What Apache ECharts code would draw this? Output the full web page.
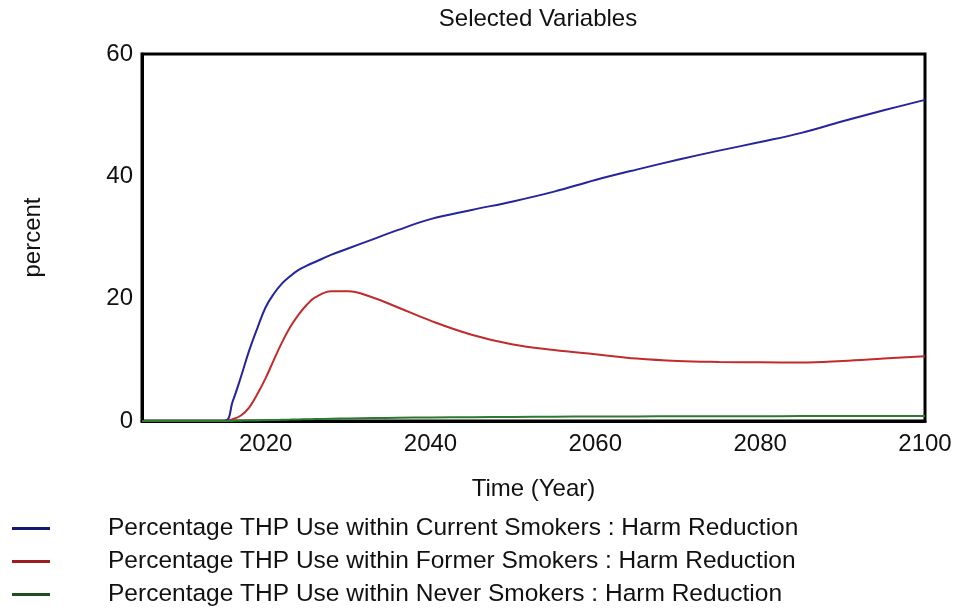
<!DOCTYPE html>
<html>
<head>
<meta charset="utf-8">
<script src="https://cdn.jsdelivr.net/npm/echarts@6/dist/echarts.min.js"></script>
<style>
html,body{margin:0;padding:0;background:#fff;}
#chart{width:963px;height:612px;}
</style>
</head>
<body>
<div id="chart"></div>
<script>
var titleText = 'Selected Variables';
var xAxisName = 'Time (Year)';
var yAxisName = 'percent';
var seriesNames = [
  'Percentage THP Use within Current Smokers : Harm Reduction',
  'Percentage THP Use within Former Smokers : Harm Reduction',
  'Percentage THP Use within Never Smokers : Harm Reduction'
];
var years = [2005, 2010, 2015, 2016, 2017, 2018, 2019, 2020, 2021, 2022, 2023, 2024, 2025, 2026, 2028, 2030, 2033, 2036, 2040, 2045, 2050, 2055, 2060, 2065, 2070, 2075, 2080, 2085, 2090, 2095, 2100];
var currentSmokers = [0, 0, 0, 3.2, 7.2, 11.5, 15.2, 18.6, 20.8, 22.5, 23.7, 24.7, 25.4, 26.0, 27.2, 28.2, 29.7, 31.2, 33.0, 34.5, 35.9, 37.5, 39.4, 41.1, 42.7, 44.2, 45.6, 47.1, 49.0, 50.8, 52.5];
var formerSmokers = [0, 0, 0, 0.3, 0.9, 2.2, 4.4, 7.0, 10.0, 12.9, 15.4, 17.4, 19.0, 20.2, 21.2, 21.2, 20.2, 18.6, 16.4, 14.1, 12.5, 11.6, 10.9, 10.2, 9.8, 9.65, 9.6, 9.55, 9.8, 10.2, 10.6];
var neverSmokers = [0, 0, 0, 0.02, 0.05, 0.08, 0.1, 0.13, 0.16, 0.2, 0.23, 0.26, 0.29, 0.32, 0.37, 0.42, 0.48, 0.53, 0.58, 0.63, 0.67, 0.7, 0.73, 0.75, 0.77, 0.78, 0.79, 0.8, 0.81, 0.82, 0.83];

var lineColors = ['#24249c', '#c02c2c', '#2e7a30'];
var legendColors = ['#14196e', '#9c1c20', '#1f4f20'];

function pairs(vals) {
  return years.map(function (y, i) { return [y, vals[i]]; });
}

var FONT = 'Liberation Sans, Arial, sans-serif';
var chart = echarts.init(document.getElementById('chart'), null, {renderer: 'canvas'});
var allVals = [currentSmokers, formerSmokers, neverSmokers];
var option = {
  backgroundColor: '#ffffff',
  animation: false,
  title: {
    text: titleText,
    left: 533, textAlign: 'center', top: 2,
    textStyle: {fontFamily: FONT, fontSize: 24, fontWeight: 'normal', color: '#111'}
  },
  grid: {
    left: 142, right: 38, top: 54, bottom: 191,
    show: true, borderColor: '#000', borderWidth: 3, backgroundColor: '#fff'
  },
  legend: {
    orient: 'vertical',
    left: 12, top: 516, padding: 0, height: 96,
    itemWidth: 38, itemHeight: 3, itemGap: 8,
    icon: 'rect',
    data: seriesNames.map(function (n, i) {
      return {name: n, itemStyle: {color: legendColors[i]}};
    }),
    textStyle: {fontFamily: FONT, fontSize: 24.5, color: '#111', padding: [0, 0, 0, 53], lineHeight: 25}
  },
  xAxis: {
    type: 'value', min: 2005, max: 2100, minInterval: 20, maxInterval: 20,
    name: xAxisName, nameLocation: 'middle', nameGap: 56,
    nameTextStyle: {fontFamily: FONT, fontSize: 24, color: '#111'},
    axisLine: {show: true, lineStyle: {color: '#000', width: 3}},
    axisTick: {show: false},
    splitLine: {show: false},
    axisLabel: {showMinLabel: false, fontFamily: FONT, fontSize: 24, color: '#111', margin: 11,
      formatter: function (v) { return String(v); }}
  },
  yAxis: {
    type: 'value', min: 0, max: 60, interval: 20,
    name: yAxisName, nameLocation: 'middle', nameGap: 97, nameRotate: 90,
    nameTextStyle: {fontFamily: FONT, fontSize: 24, color: '#111'},
    axisLine: {show: true, lineStyle: {color: '#000', width: 3}},
    axisTick: {show: false},
    splitLine: {show: false},
    axisLabel: {fontFamily: FONT, fontSize: 24, color: '#111', margin: 9}
  },
  series: seriesNames.map(function (n, i) {
    return {
      name: n, type: 'line', data: pairs(allVals[i]),
      smooth: 0.4, showSymbol: false, symbol: 'none',
      lineStyle: {color: lineColors[i], width: 2},
      itemStyle: {color: legendColors[i]},
      z: 3
    };
  })
};
chart.setOption(option);
</script>
</body>
</html>
